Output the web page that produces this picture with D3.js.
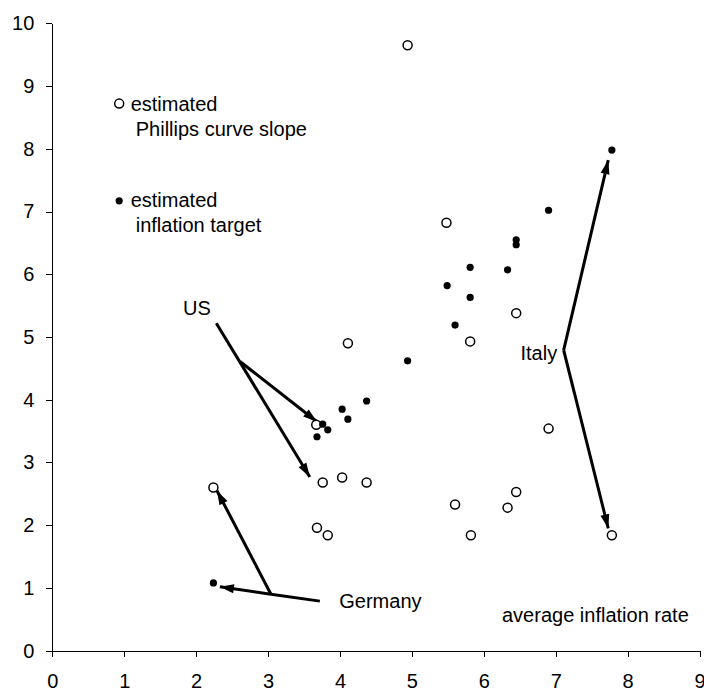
<!DOCTYPE html>
<html>
<head>
<meta charset="utf-8">
<script src="https://cdn.jsdelivr.net/npm/d3@7"></script>
<style>
  html, body { margin: 0; padding: 0; background: #fff; }
  svg { display: block; font-family: "Liberation Sans", Arial, sans-serif; }
</style>
</head>
<body>
<div id="chart"></div>
<script>
// ---- data ----
const xTickValues = [0, 1, 2, 3, 4, 5, 6, 7, 8, 9];
const yTickValues = [0, 1, 2, 3, 4, 5, 6, 7, 8, 9, 10];

// estimated Phillips curve slope (open circles): average inflation rate vs value
const slopeX = [4.94, 5.48, 6.45, 4.11, 5.81, 3.67, 6.90, 3.76, 4.03, 4.37, 2.24, 5.60, 6.45, 6.33, 3.68, 3.83, 5.82, 7.78];
const slopeY = [9.65, 6.82, 5.38, 4.90, 4.93, 3.60, 3.54, 2.68, 2.76, 2.68, 2.60, 2.33, 2.53, 2.28, 1.96, 1.84, 1.84, 1.84];

// estimated inflation target (filled dots)
const targetX = [7.78, 6.90, 6.45, 6.45, 5.81, 6.33, 5.49, 5.81, 5.60, 4.94, 4.37, 4.03, 4.11, 3.76, 3.83, 3.68, 2.24];
const targetY = [7.98, 7.02, 6.55, 6.47, 6.11, 6.07, 5.82, 5.63, 5.19, 4.62, 3.98, 3.85, 3.69, 3.61, 3.52, 3.41, 1.08];

// annotation arrows (data units): [x1, y1, x2, y2, hasHead]
const arrowSegments = [
  [2.28, 5.22, 3.58, 2.77, true],   // US -> slope
  [2.61, 4.61, 3.68, 3.65, true],   // US -> target
  [3.72, 0.79, 3.04, 0.90, false],  // Germany stem
  [3.04, 0.90, 2.33, 1.02, true],   // Germany -> target
  [3.04, 0.90, 2.29, 2.55, true],   // Germany -> slope
  [7.11, 4.79, 7.73, 7.82, true],   // Italy -> target
  [7.11, 4.79, 7.73, 1.95, true]    // Italy -> slope
];

// text annotations (data units): [text, x, y, anchor]
const labels = [
  ["US", 2.01, 5.47, "middle"],
  ["Germany", 3.99, 0.79, "start"],
  ["Italy", 7.02, 4.74, "end"],
  ["average inflation rate", 8.85, 0.57, "end"],
  ["estimated", 1.09, 8.72, "start"],
  ["Phillips curve slope", 1.16, 8.31, "start"],
  ["estimated", 1.09, 7.19, "start"],
  ["inflation target", 1.16, 6.79, "start"]
];
const legendCircle = [0.93, 8.72];
const legendDot = [0.93, 7.17];

// ---- layout ----
const W = 704, H = 691;
const mLeft = 52.3, mRight = 699.6, mTop = 23.3, mBottom = 650.7;

const svg = d3.select("#chart").append("svg")
  .attr("width", W).attr("height", H);

const x = d3.scaleLinear().domain([0, 9]).range([mLeft, mRight]);
const y = d3.scaleLinear().domain([0, 10]).range([mBottom, mTop]);

const fontSize = 20;

// axes
const xAxis = d3.axisBottom(x).tickValues(xTickValues).tickFormat(d3.format("d"))
  .tickSize(6).tickSizeOuter(0).tickPadding(17);
const yAxis = d3.axisLeft(y).tickValues(yTickValues).tickFormat(d3.format("d"))
  .tickSize(6).tickSizeOuter(0).tickPadding(12);

const gx = svg.append("g").attr("transform", `translate(0,${mBottom})`).call(xAxis);
const gy = svg.append("g").attr("transform", `translate(${mLeft},0)`).call(yAxis);
[gx, gy].forEach(g => {
  g.selectAll("path, line").attr("stroke", "#000").attr("stroke-width", 1).attr("shape-rendering", "crispEdges");
  g.selectAll("text").attr("fill", "#000").style("font-size", fontSize + "px")
    .style("font-family", '"Liberation Sans", Arial, sans-serif');
});

// arrow marker
const defs = svg.append("defs");
defs.append("marker")
  .attr("id", "head")
  .attr("markerUnits", "userSpaceOnUse")
  .attr("viewBox", "-15 -5 16 10")
  .attr("refX", 0).attr("refY", 0)
  .attr("markerWidth", 16).attr("markerHeight", 10)
  .attr("orient", "auto")
  .append("path")
  .attr("d", "M0,0 L-14,-4.5 L-14,4.5 Z")
  .attr("fill", "#000");

// arrows
svg.append("g").selectAll("line").data(arrowSegments).join("line")
  .attr("x1", d => x(d[0])).attr("y1", d => y(d[1]))
  .attr("x2", d => x(d[2])).attr("y2", d => y(d[3]))
  .attr("stroke", "#000").attr("stroke-width", 3)
  .attr("stroke-linecap", "butt")
  .attr("marker-end", d => d[4] ? "url(#head)" : null);

// markers
const slope = slopeX.map((v, i) => [v, slopeY[i]]);
const target = targetX.map((v, i) => [v, targetY[i]]);

svg.append("g").selectAll("circle").data(slope).join("circle")
  .attr("cx", d => x(d[0])).attr("cy", d => y(d[1])).attr("r", 4.5)
  .attr("fill", "#fff").attr("stroke", "#000").attr("stroke-width", 1.5);

svg.append("g").selectAll("circle").data(target).join("circle")
  .attr("cx", d => x(d[0])).attr("cy", d => y(d[1])).attr("r", 3.6)
  .attr("fill", "#000");

// legend markers
svg.append("circle").attr("cx", x(legendCircle[0])).attr("cy", y(legendCircle[1])).attr("r", 4.5)
  .attr("fill", "#fff").attr("stroke", "#000").attr("stroke-width", 1.5);
svg.append("circle").attr("cx", x(legendDot[0])).attr("cy", y(legendDot[1])).attr("r", 3.6)
  .attr("fill", "#000");

// text labels
svg.append("g").selectAll("text").data(labels).join("text")
  .attr("x", d => x(d[1])).attr("y", d => y(d[2]))
  .attr("dy", "0.35em")
  .attr("text-anchor", d => d[3])
  .attr("fill", "#000")
  .style("font-size", fontSize + "px")
  .text(d => d[0]);
</script>
</body>
</html>
